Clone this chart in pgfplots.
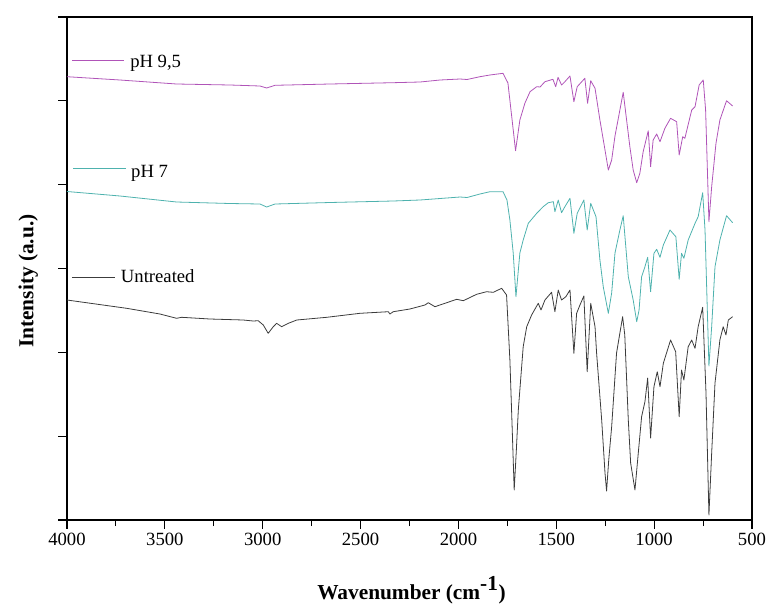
\documentclass[border=0pt]{standalone}
\usepackage{fontspec}
\setmainfont{Liberation Serif}
\usepackage{pgfplots}
\pgfplotsset{compat=1.18}
\definecolor{magc}{RGB}{176,84,184}
\definecolor{tealc}{RGB}{78,178,174}
\definecolor{blkc}{RGB}{60,60,60}
\begin{document}
\begin{tikzpicture}
\begin{axis}[
  scale only axis, width=513.75pt, height=377.25pt,
  x dir=reverse, xmin=500, xmax=4000, ymin=0, ymax=503,
  xtick={500,1000,...,4000}, minor x tick num=1,
  ytick={0,83.83,167.67,251.5,335.33,419.17,503}, yticklabels={},
  tick pos=left, tick align=outside,
  major tick length=6.5pt, minor tick length=4.5pt,
  tick style={black, line width=0.8pt},
  axis line style={line width=1pt},
  /pgf/number format/assume math mode=true,
  /pgf/number format/1000 sep={},
  xticklabel style={font=\fontsize{14}{16}\selectfont},
  xlabel={Wavenumber (cm$^{\textbf{-1}}$)},
  ylabel={Intensity (a.u.)},
  xlabel style={font=\bfseries\fontsize{16}{18}\selectfont, at={(axis description cs:0.503,0)}, anchor=north, yshift=-39pt},
  ylabel style={font=\bfseries\fontsize{16}{18}\selectfont, at={(axis description cs:-0.0565,0.475)}, anchor=center, rotate=0},
  every axis plot/.append style={line width=0.6pt, line join=round},
  clip=false,
]
\addplot[blkc] coordinates {
(4000,220) (3695,211.7) (3525,206) (3440,201.7) (3414,202.7) (3269,201) (3099,200) (3048,199)
(3023,199.3) (2997,195) (2972,186.7) (2946,193.3) (2929,196.7) (2903,193.3) (2869,196.7) (2826,200)
(2673,202.7) (2503,206.7) (2358,208.3) (2350,206) (2333,208.3) (2248,211) (2171,215) (2154,217.3)
(2120,213.3) (2060,217.3) (2009,220.7) (1975,219.3) (1907,225.7) (1856,228.3) (1822,227.7) (1779,231.7)
(1754,225) (1737,160) (1725,90) (1715,30) (1704,70) (1694,110) (1669,173.3) (1651,193.3) (1626,205) (1600,214)
(1592,216.7) (1578,210) (1558,220) (1524,227.7) (1507,208.3) (1490,230) (1473,220) (1451,223.3)
(1430,230) (1410,166.7) (1396,206.7) (1379,215) (1359,224) (1342,148.3) (1324,216.7) (1302,193.3)
(1294,167) (1268,100) (1251,47) (1243,29) (1232,60) (1217,93.3) (1192,167) (1161,203.3) (1150,185)
(1132,100) (1120,57) (1098,30) (1081,67) (1064,103.3) (1047,118.3) (1033,142) (1018,82)
(1001,133.3) (984,148.3) (970,133.3) (953,156.7) (916,180) (890,168.3) (872,103.3) (860,150)
(848,140) (826,173.3) (808,180) (791,171.7) (775,193.3) (752,212.7) (735,127) (720,5)
(706,67) (689,137) (664,180) (647,193.3) (633,185) (621,200) (599,203.3)
};
\addplot[tealc] coordinates {
(4000,328.5) (3729,324) (3440,318) (3167,316.5) (3014,316) (2980,313) (2937,316) (2656,317.5)
(2334,319) (2196,320) (2094,321.5) (1992,323) (1956,322.5) (1890,326) (1839,328.3) (1772,328.3)
(1752,320) (1737,300) (1720,267) (1706,223.3) (1686,267) (1669,280) (1643,296.7) (1600,306.7)
(1567,313.3) (1541,317.3) (1515,318.3) (1507,308.3) (1490,320) (1473,307.3) (1456,313.3) (1430,321.7)
(1410,286.7) (1393,306.7) (1359,320) (1342,290) (1324,316.7) (1297,303.3) (1277,260) (1260,233.3)
(1234,206.7) (1217,227) (1200,267) (1175,290) (1158,304.3) (1132,243.3) (1107,220) (1089,198.3)
(1077,210) (1064,243.3) (1047,253.3)
(1033,262.7) (1018,228.3) (1001,266.7) (987,270.7) (970,262.7) (953,275) (919,290) (889,283.3)
(872,240.7) (860,266.7) (848,261.7) (826,280) (791,296.7) (775,303.3) (752,327.3) (740,290)
(720,154) (706,193.3) (689,253.3) (664,280) (630,304.3) (599,297.3)
};
\addplot[magc] coordinates {
(4000,443.3) (3729,440) (3440,436) (3167,435) (3014,434) (2980,432) (2937,434.7) (2656,436)
(2334,437.3) (2196,438) (2094,440) (1992,441) (1956,440.5) (1890,443.3) (1839,445) (1772,446.7)
(1747,437) (1708,369.3) (1686,400) (1660,417) (1634,428.3) (1600,433.3) (1583,433) (1558,438.3)
(1517,440.7) (1503,433.3) (1491,442.7) (1473,435) (1456,438.3) (1430,444) (1410,418.3) (1393,433.3)
(1354,441.7) (1340,416.7) (1324,439.3) (1302,431.7) (1277,400) (1251,370) (1234,350) (1217,360)
(1200,384) (1158,427.7)
(1124,373.3) (1107,350) (1089,337.3) (1073,346.7) (1056,368.3) (1030,389.3) (1018,353.3) (1005,380) (987,386) (970,378.3)
(945,391.7) (916,401.7) (885,398.3) (872,365) (854,383.3) (843,381.7) (808,410) (791,413.3)
(770,435) (749,440) (737,410) (720,298.3) (706,333.3) (684,376.7) (664,400) (630,419.3) (599,414)
};
\draw[magc, line width=0.6pt] (axis description cs:0.0077,0.913) -- (axis description cs:0.0836,0.913);
\node[anchor=base west, inner sep=0pt, font=\fontsize{14}{16}\selectfont] at (axis description cs:0.092,0.900) {pH 9,5};
\draw[tealc, line width=0.6pt] (axis description cs:0.0088,0.6984) -- (axis description cs:0.0861,0.6984);
\node[anchor=base west, inner sep=0pt, font=\fontsize{14}{16}\selectfont] at (axis description cs:0.0934,0.6805) {pH 7};
\draw[blkc, line width=0.6pt] (axis description cs:0.0073,0.4825) -- (axis description cs:0.070,0.4825);
\node[anchor=base west, inner sep=0pt, font=\fontsize{14}{16}\selectfont] at (axis description cs:0.0784,0.4718) {Untreated};
\coordinate (sw) at (axis description cs:0,0);
\coordinate (ne) at (axis description cs:1,1);
\end{axis}
\pgfresetboundingbox
\path ([shift={(-50.25pt,-63pt)}]sw) rectangle ([shift={(12pt,12.75pt)}]ne);
\end{tikzpicture}
\end{document}
